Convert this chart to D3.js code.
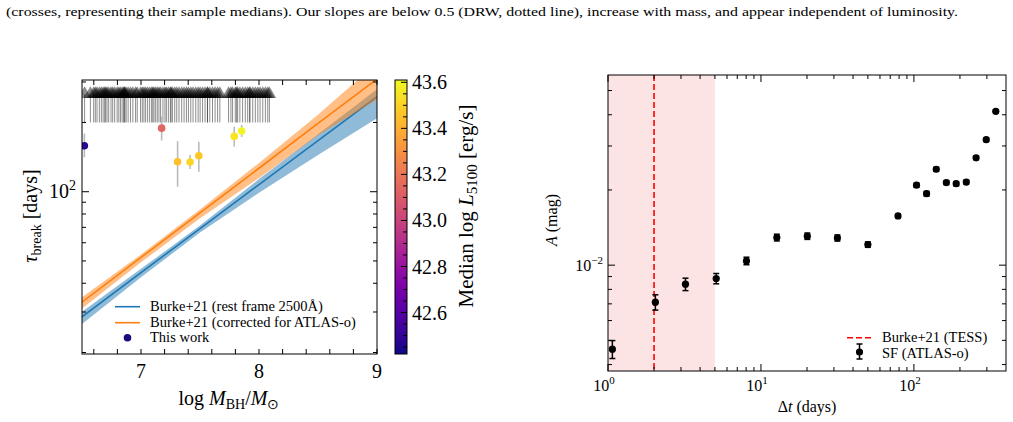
<!DOCTYPE html>
<html>
<head>
<meta charset="utf-8">
<script src="https://cdn.jsdelivr.net/npm/d3@7"></script>
<style>
body { margin: 0; background: #fff; }
svg { display: block; font-family: "Liberation Serif", "Times New Roman", serif; }
</style>
</head>
<body>
<svg id="fig" width="1013" height="422"></svg>
<script>
// ---- left panel: break timescale vs black hole mass ----
var limitMass = [6.522, 6.571, 6.599, 6.613, 6.627, 6.647, 6.664, 6.679, 6.692, 6.70, 6.712, 6.726,
  6.746, 6.760, 6.777, 6.798, 6.812, 6.826, 6.840, 6.854, 6.857, 6.863, 6.874, 6.891, 6.911,
  6.931, 6.954, 6.968, 6.996, 7.011, 7.025, 7.039, 7.056, 7.073, 7.090, 7.10, 7.110, 7.124,
  7.138, 7.152, 7.166, 7.186, 7.203, 7.215, 7.232, 7.249, 7.255, 7.266, 7.286, 7.303, 7.322,
  7.345, 7.365, 7.385, 7.402, 7.422, 7.441, 7.464, 7.484, 7.501, 7.522, 7.543, 7.563, 7.564,
  7.583, 7.606, 7.628, 7.649, 7.668, 7.742, 7.762, 7.776, 7.799, 7.81, 7.819, 7.838, 7.861,
  7.884, 7.904, 7.92, 7.924, 7.947, 7.969, 7.990, 8.009, 8.032, 8.054, 8.074, 8.088];
var limitTau = [200, 266];   // lower end, arrow tip (days)

var agnMass = [6.52, 7.175, 7.31, 7.416, 7.49, 7.79, 7.853];
var agnTau = [158.5, 189, 135, 134.6, 143.4, 174, 183.6];
var agnTauLo = [141, 167, 105, 125.6, 122, 157, 173];
var agnTauHi = [179, 212, 166, 144.5, 165, 192, 195];
var agnLum = [42.48, 43.14, 43.45, 43.51, 43.47, 43.55, 43.6];

var fitMass = [6.5, 7, 7.5, 8, 8.5, 9];
var restTau = [28.6, 44.5, 69.1, 107.4, 166.7, 258.8];
var restLo = [26.6, 42.5, 66.4, 98.9, 144.5, 208.4];
var restHi = [30.1, 46.2, 71.3, 113.5, 177.8, 278.6];
var atlasTau = [33.1, 51.8, 81.0, 126.5, 198.0, 309.0];
var atlasLo = [31.1, 49.3, 76.7, 114.8, 175.8, 251.2];
var atlasHi = [34.8, 53.3, 83.6, 133.4, 216.3, 363.0];

var lumTicks = [42.6, 42.8, 43.0, 43.2, 43.4, 43.6];

// ---- right panel: structure function ----
var lagDays = [1.068, 2.04, 3.21, 5.1, 8.04, 12.7, 20.1, 31.6, 50, 78.7, 104, 121, 140, 163, 189, 220, 255, 297, 343];
var sfAmp = [0.00461, 0.00711, 0.00839, 0.00884, 0.0104, 0.0129, 0.01306, 0.01285, 0.01209, 0.01574,
  0.0209, 0.01933, 0.0242, 0.0214, 0.0212, 0.0215, 0.0269, 0.0318, 0.0413];
var sfErr = [0.00038, 0.00050, 0.00048, 0.00042, 0.00036, 0.00040, 0.00038, 0.00036, 0.00030, 0.00030,
  0.00040, 0.00040, 0.00045, 0.00040, 0.00040, 0.00040, 0.00045, 0.00050, 0.00060];
var tessLag = 2;
var tessSpan = [1, 5];

var caption = "(crosses, representing their sample medians). Our slopes are below 0.5 (DRW, dotted line), increase with mass, and appear independent of luminosity.";

var svg = d3.select("#fig");

svg.append("text")
  .attr("x", 6).attr("y", 16)
  .attr("font-size", 13.5)
  .attr("textLength", 952).attr("lengthAdjust", "spacingAndGlyphs")
  .text(caption);

// inward ticks on a box
function ticksX(g, scale, vals, y0, y1, len) {
  vals.forEach(function(v) {
    var x = scale(v);
    g.append("line").attr("x1", x).attr("x2", x).attr("y1", y1).attr("y2", y1 - len).attr("stroke", "#000");
    g.append("line").attr("x1", x).attr("x2", x).attr("y1", y0).attr("y2", y0 + len).attr("stroke", "#000");
  });
}
function ticksY(g, scale, vals, x0, x1, len) {
  vals.forEach(function(v) {
    var y = scale(v);
    g.append("line").attr("y1", y).attr("y2", y).attr("x1", x0).attr("x2", x0 + len).attr("stroke", "#000");
    g.append("line").attr("y1", y).attr("y2", y).attr("x1", x1).attr("x2", x1 - len).attr("stroke", "#000");
  });
}

// ================= LEFT =================
var L = {x0: 82, x1: 377, y0: 80, y1: 354};
var xL = d3.scaleLinear().domain([6.5, 9]).range([L.x0, L.x1]);
var yL = d3.scaleLog().domain([19.7, 306]).range([L.y1, L.y0]);
var lumColor = d3.scaleSequential(d3.interpolatePlasma).domain([42.42, 43.61]);

var defs = svg.append("defs");
defs.append("clipPath").attr("id", "clipL").append("rect")
  .attr("x", L.x0).attr("y", L.y0).attr("width", L.x1 - L.x0).attr("height", L.y1 - L.y0);

var gl = svg.append("g");
var pl = gl.append("g").attr("clip-path", "url(#clipL)");

var band = function(lo, hi) {
  return d3.area().x(function(d, i) { return xL(fitMass[i]); })
    .y0(function(d, i) { return yL(lo[i]); })
    .y1(function(d, i) { return yL(hi[i]); });
};
var fitLine = function(t) {
  return d3.line().x(function(d, i) { return xL(fitMass[i]); }).y(function(d, i) { return yL(t[i]); });
};

pl.append("path").attr("d", band(restLo, restHi)(fitMass)).attr("fill", "#1f77b4").attr("opacity", 0.5);
pl.append("path").attr("d", fitLine(restTau)(fitMass)).attr("fill", "none").attr("stroke", "#1f77b4").attr("stroke-width", 1.6);
pl.append("path").attr("d", band(atlasLo, atlasHi)(fitMass)).attr("fill", "#ff7f0e").attr("opacity", 0.5);
pl.append("path").attr("d", fitLine(atlasTau)(fitMass)).attr("fill", "none").attr("stroke", "#ff7f0e").attr("stroke-width", 1.6);

// lower limits
pl.selectAll("line.lim").data(limitMass).enter().append("line")
  .attr("x1", function(d) { return xL(d); }).attr("x2", function(d) { return xL(d); })
  .attr("y1", yL(limitTau[0])).attr("y2", yL(limitTau[1]))
  .attr("stroke", "#000").attr("stroke-opacity", 0.45).attr("stroke-width", 1);
pl.selectAll("path.lim").data(limitMass).enter().append("path")
  .attr("d", d3.symbol().type(d3.symbolTriangle).size(80))
  .attr("transform", function(d) { return "translate(" + xL(d) + "," + yL(limitTau[1]) + ")"; })
  .attr("fill", "#000").attr("fill-opacity", 0.45);

// AGN points with error bars
pl.selectAll("line.err").data(agnMass).enter().append("line")
  .attr("x1", function(d) { return xL(d); }).attr("x2", function(d) { return xL(d); })
  .attr("y1", function(d, i) { return yL(agnTauLo[i]); })
  .attr("y2", function(d, i) { return yL(agnTauHi[i]); })
  .attr("stroke", "#bbb").attr("stroke-width", 1.6);
pl.selectAll("circle").data(agnMass).enter().append("circle")
  .attr("cx", function(d) { return xL(d); })
  .attr("cy", function(d, i) { return yL(agnTau[i]); })
  .attr("r", 3.8)
  .attr("fill", function(d, i) { return lumColor(agnLum[i]); });

gl.append("rect").attr("x", L.x0).attr("y", L.y0).attr("width", L.x1 - L.x0).attr("height", L.y1 - L.y0)
  .attr("fill", "none").attr("stroke", "#000").attr("stroke-width", 1);

ticksX(gl, xL, [7, 8, 9], L.y0, L.y1, 5);
ticksX(gl, xL, d3.range(6.6, 8.9, 0.2).filter(function(v) { return Math.abs(v - Math.round(v)) > 0.01; }), L.y0, L.y1, 5);
ticksY(gl, yL, [100], L.x0, L.x1, 7);
ticksY(gl, yL, [20, 30, 40, 50, 60, 70, 80, 90, 200, 300], L.x0, L.x1, 4);

[7, 8, 9].forEach(function(v) {
  gl.append("text").attr("x", xL(v)).attr("y", 378).attr("text-anchor", "middle").attr("font-size", 20).text(v);
});
var t2 = gl.append("text").attr("x", 76).attr("y", 198).attr("text-anchor", "end").attr("font-size", 20);
t2.append("tspan").text("10");
t2.append("tspan").attr("dy", -8).attr("font-size", 14).text("2");

// axis labels
var xlab = gl.append("text").attr("x", 229).attr("y", 405).attr("text-anchor", "middle").attr("font-size", 20);
xlab.append("tspan").text("log ");
xlab.append("tspan").attr("font-style", "italic").text("M");
xlab.append("tspan").attr("dy", 4).attr("font-size", 14).text("BH");
xlab.append("tspan").attr("dy", -4).text("/");
xlab.append("tspan").attr("font-style", "italic").text("M");
xlab.append("tspan").attr("dy", 4).attr("font-size", 14).text("\u2299");

var ylab = gl.append("text").attr("transform", "translate(37,216) rotate(-90)").attr("text-anchor", "middle").attr("font-size", 20);
ylab.append("tspan").attr("font-style", "italic").text("\u03c4");
ylab.append("tspan").attr("dy", 4).attr("font-size", 14).text("break");
ylab.append("tspan").attr("dy", -4).text(" [days]");

// legend
var legL = gl.append("g");
legL.append("line").attr("x1", 115).attr("x2", 140).attr("y1", 306.7).attr("y2", 306.7).attr("stroke", "#1f77b4").attr("stroke-width", 1.6);
legL.append("line").attr("x1", 115).attr("x2", 140).attr("y1", 322.7).attr("y2", 322.7).attr("stroke", "#ff7f0e").attr("stroke-width", 1.6);
legL.append("circle").attr("cx", 127.5).attr("cy", 337.7).attr("r", 3.8).attr("fill", "#1a0b7c");
legL.append("text").attr("x", 150).attr("y", 311).attr("font-size", 14.5).text("Burke+21 (rest frame 2500\u00c5)");
legL.append("text").attr("x", 150).attr("y", 327).attr("font-size", 14.5).text("Burke+21 (corrected for ATLAS-o)");
legL.append("text").attr("x", 150).attr("y", 342).attr("font-size", 14.5).text("This work");

// colorbar
var CB = {x0: 395, x1: 407, y0: 80, y1: 354};
var yC = d3.scaleLinear().domain([42.42, 43.61]).range([CB.y1, CB.y0]);
var grad = defs.append("linearGradient").attr("id", "plasma")
  .attr("x1", 0).attr("y1", 1).attr("x2", 0).attr("y2", 0);
d3.range(0, 1.001, 0.05).forEach(function(t) {
  grad.append("stop").attr("offset", t).attr("stop-color", d3.interpolatePlasma(t));
});
gl.append("rect").attr("x", CB.x0).attr("y", CB.y0).attr("width", CB.x1 - CB.x0).attr("height", CB.y1 - CB.y0)
  .attr("fill", "url(#plasma)").attr("stroke", "#000").attr("stroke-width", 1);
d3.range(42.45, 43.61, 0.05).forEach(function(v) {
  var major = lumTicks.some(function(m) { return Math.abs(m - v) < 0.001; });
  gl.append("line").attr("x1", CB.x1).attr("x2", CB.x1 - (major ? 6 : 4))
    .attr("y1", yC(v)).attr("y2", yC(v)).attr("stroke", "#000");
});
lumTicks.forEach(function(v) {
  gl.append("text").attr("x", 412).attr("y", yC(v) + 7).attr("font-size", 20).text(v.toFixed(1));
});
var clab = gl.append("text").attr("transform", "translate(473,206) rotate(-90)").attr("text-anchor", "middle").attr("font-size", 21);
clab.append("tspan").text("Median log ");
clab.append("tspan").attr("font-style", "italic").text("L");
clab.append("tspan").attr("dy", 4).attr("font-size", 15).text("5100");
clab.append("tspan").attr("dy", -4).text(" [erg/s]");

// ================= RIGHT =================
var R = {x0: 608, x1: 1006, y0: 75, y1: 371};
var xR = d3.scaleLog().domain([1, 400]).range([R.x0, R.x1]);
var yR = d3.scaleLog().domain([0.00377, 0.0577]).range([R.y1, R.y0]);
var gr = svg.append("g");

gr.append("rect").attr("x", xR(tessSpan[0])).attr("y", R.y0)
  .attr("width", xR(tessSpan[1]) - xR(tessSpan[0])).attr("height", R.y1 - R.y0)
  .attr("fill", "#fde4e4");
gr.append("line").attr("x1", xR(tessLag)).attr("x2", xR(tessLag)).attr("y1", R.y0).attr("y2", R.y1)
  .attr("stroke", "#ff0000").attr("stroke-width", 1.6).attr("stroke-dasharray", "6,3");

gr.selectAll("line.sf").data(lagDays).enter().append("line")
  .attr("x1", function(d) { return xR(d); }).attr("x2", function(d) { return xR(d); })
  .attr("y1", function(d, i) { return yR(sfAmp[i] - sfErr[i]); })
  .attr("y2", function(d, i) { return yR(sfAmp[i] + sfErr[i]); })
  .attr("stroke", "#000").attr("stroke-width", 1.5);
[-1, 1].forEach(function(s) {
  gr.selectAll("line.cap").data(lagDays).enter().append("line")
    .attr("x1", function(d) { return xR(d) - 3; }).attr("x2", function(d) { return xR(d) + 3; })
    .attr("y1", function(d, i) { return yR(sfAmp[i] + s * sfErr[i]); })
    .attr("y2", function(d, i) { return yR(sfAmp[i] + s * sfErr[i]); })
    .attr("stroke", "#000").attr("stroke-width", 1.5);
});
gr.selectAll("circle").data(lagDays).enter().append("circle")
  .attr("cx", function(d) { return xR(d); })
  .attr("cy", function(d, i) { return yR(sfAmp[i]); })
  .attr("r", 3.6).attr("fill", "#000");

gr.append("rect").attr("x", R.x0).attr("y", R.y0).attr("width", R.x1 - R.x0).attr("height", R.y1 - R.y0)
  .attr("fill", "none").attr("stroke", "#000").attr("stroke-width", 1);

var minorX = [2, 3, 4, 5, 6, 7, 8, 9, 20, 30, 40, 50, 60, 70, 80, 90, 200, 300];
ticksX(gr, xR, [1, 10, 100], R.y0, R.y1, 7);
ticksX(gr, xR, minorX, R.y0, R.y1, 4);
ticksY(gr, yR, [0.01], R.x0, R.x1, 7);
ticksY(gr, yR, [0.004, 0.005, 0.006, 0.007, 0.008, 0.009, 0.02, 0.03, 0.04, 0.05], R.x0, R.x1, 4);

[[1, "0"], [10, "1"], [100, "2"]].forEach(function(p) {
  var t = gr.append("text").attr("x", xR(p[0]) - 4).attr("y", 391).attr("text-anchor", "middle").attr("font-size", 16);
  t.append("tspan").text("10");
  t.append("tspan").attr("dy", -7).attr("font-size", 11).text(p[1]);
});
var ty = gr.append("text").attr("x", 603).attr("y", 271).attr("text-anchor", "end").attr("font-size", 16);
ty.append("tspan").text("10");
ty.append("tspan").attr("dy", -7).attr("font-size", 11).text("\u22122");

var xr = gr.append("text").attr("x", 807).attr("y", 412).attr("text-anchor", "middle").attr("font-size", 16);
xr.append("tspan").text("\u0394");
xr.append("tspan").attr("font-style", "italic").text("t");
xr.append("tspan").text(" (days)");
var yr = gr.append("text").attr("transform", "translate(557,220) rotate(-90)").attr("text-anchor", "middle").attr("font-size", 16);
yr.append("tspan").attr("font-style", "italic").text("A");
yr.append("tspan").text(" (mag)");

// legend
var legR = gr.append("g");
legR.append("line").attr("x1", 847).attr("x2", 873).attr("y1", 337.7).attr("y2", 337.7)
  .attr("stroke", "#ff0000").attr("stroke-width", 1.6).attr("stroke-dasharray", "6,3");
legR.append("line").attr("x1", 859.5).attr("x2", 859.5).attr("y1", 344).attr("y2", 359).attr("stroke", "#000").attr("stroke-width", 1.5);
legR.append("line").attr("x1", 856.5).attr("x2", 862.5).attr("y1", 344).attr("y2", 344).attr("stroke", "#000").attr("stroke-width", 1.5);
legR.append("line").attr("x1", 856.5).attr("x2", 862.5).attr("y1", 359).attr("y2", 359).attr("stroke", "#000").attr("stroke-width", 1.5);
legR.append("circle").attr("cx", 859.5).attr("cy", 352).attr("r", 3.6).attr("fill", "#000");
legR.append("text").attr("x", 882).attr("y", 342).attr("font-size", 14.5).text("Burke+21 (TESS)");
legR.append("text").attr("x", 882).attr("y", 358).attr("font-size", 14.5).text("SF (ATLAS-o)");
</script>
</body>
</html>
